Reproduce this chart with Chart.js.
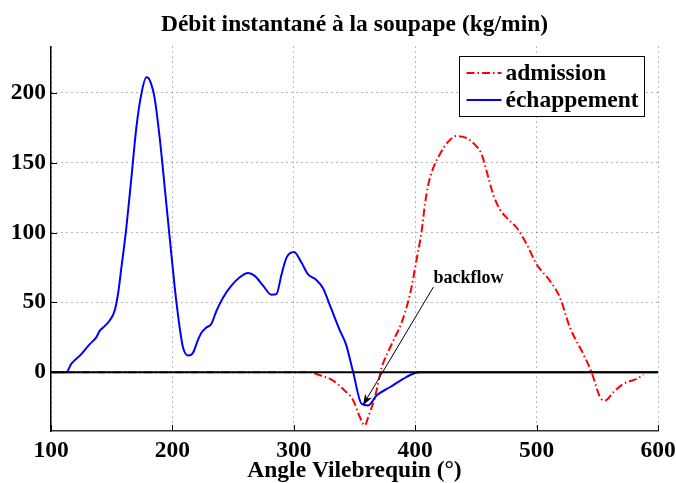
<!DOCTYPE html>
<html>
<head>
<meta charset="utf-8">
<script src="https://cdn.jsdelivr.net/npm/chart.js@4"></script>
<style>
  html, body { margin: 0; padding: 0; background: #fff; }
  #wrap { width: 676px; height: 483px; }
</style>
</head>
<body>
<div id="wrap"><canvas id="chart" width="676" height="483"></canvas></div>
<script>
// axes
const xTicks = [100, 200, 300, 400, 500, 600];
const yTicks = [0, 50, 100, 150, 200];

// échappement (exhaust) flow, kg/min vs crank angle
const echAngle = [100, 112.6, 116.7, 125, 131.8, 137.3, 140, 144.2, 148.3, 152.4, 155.2, 158, 162, 166.2, 170.3, 174.4, 178.6, 181.3, 185.4, 189.5, 193.7, 197.8, 201.9, 206, 208.7, 213, 217, 221, 224, 228, 232, 236.3, 241.8, 248.6, 255.5, 262.3, 267.8, 274.7, 281.6, 285.7, 289.9, 294, 300.2, 306.3, 311.8, 318, 324.2, 329.7, 337.9, 343, 348.9, 355.8, 361.3, 368.2, 379.1, 390.1, 399.8, 405, 600];
const echFlow  = [0, 0, 6, 13, 20, 25, 29.5, 33, 37, 44, 56, 75, 103, 139, 175, 199, 211, 209, 196, 168, 132, 96, 61, 32, 18, 12, 14, 23, 28.5, 32, 34.5, 44, 53.5, 62, 68, 71, 69, 62, 55.5, 56, 70, 82, 86, 78.5, 70, 66.5, 60, 48, 30, 20, 0, -22.5, -23.7, -16.6, -10.7, -4.7, -0.5, 0, 0];

// admission (intake) flow
const admAngle = [100, 315, 318.7, 332.4, 340.6, 348.9, 354.4, 358.5, 361.3, 366.8, 372.3, 380, 389, 394, 397, 401, 405.3, 408, 410.7, 414.8, 420.3, 427.2, 434, 442.4, 449, 454.7, 458.8, 464.3, 469.8, 476.7, 483.6, 491.8, 500, 511, 519.2, 527.5, 538.5, 545.3, 552.3, 556.4, 563.2, 571.5, 582.5, 588];
const admFlow  = [0, 0, -1.2, -6, -12, -20, -32, -38, -32, -18, 3, 19, 36, 50, 61, 80, 101, 120, 134, 146, 156, 165, 169, 167.6, 163, 156, 144, 127, 116.5, 109.4, 103.4, 91.6, 77.3, 65.4, 53.5, 32, 13, 0, -17.8, -20.2, -14.3, -8.3, -4.7, -1.6];

// zero reference line
const zeroAngle = [100, 600];
const zeroFlow  = [0, 0];

// annotation
const annotText = 'backflow';
const annotTail = [415, 61];
const annotHead = [357, -23.5];

const serif = '"Liberation Serif", "Times New Roman", serif';
const fontSize = 23.5;

const toXY = (xs, ys) => xs.map((x, i) => ({ x, y: ys[i] }));

const decor = {
  id: 'decor',
  afterDraw(chart) {
    const { ctx, chartArea: a, scales: { x, y } } = chart;
    ctx.save();

    // inward tick marks
    ctx.strokeStyle = '#000';
    ctx.lineWidth = 1;
    ctx.beginPath();
    xTicks.forEach(v => {
      const px = Math.round(x.getPixelForValue(v)) + 0.5;
      ctx.moveTo(px, a.bottom);
      ctx.lineTo(px, a.bottom - 6);
    });
    yTicks.forEach(v => {
      const py = Math.round(y.getPixelForValue(v)) + 0.5;
      ctx.moveTo(a.left, py);
      ctx.lineTo(a.left + 6, py);
    });
    ctx.stroke();

    // annotation arrow
    const tx = x.getPixelForValue(annotTail[0]), ty = y.getPixelForValue(annotTail[1]);
    const hx = x.getPixelForValue(annotHead[0]), hy = y.getPixelForValue(annotHead[1]);
    ctx.beginPath();
    ctx.moveTo(tx, ty);
    ctx.lineTo(hx, hy);
    ctx.stroke();
    const ang = Math.atan2(hy - ty, hx - tx);
    const len = 11, half = 4;
    ctx.fillStyle = '#000';
    ctx.beginPath();
    ctx.moveTo(hx, hy);
    ctx.lineTo(hx - len * Math.cos(ang) + half * Math.sin(ang), hy - len * Math.sin(ang) - half * Math.cos(ang));
    ctx.lineTo(hx - len * 0.7 * Math.cos(ang), hy - len * 0.7 * Math.sin(ang));
    ctx.lineTo(hx - len * Math.cos(ang) - half * Math.sin(ang), hy - len * Math.sin(ang) + half * Math.cos(ang));
    ctx.closePath();
    ctx.fill();

    ctx.font = 'bold 18px ' + serif;
    ctx.textAlign = 'left';
    ctx.textBaseline = 'alphabetic';
    ctx.fillText(annotText, tx, ty - 4);

    // legend box
    const items = chart.data.datasets.filter(d => d.label);
    ctx.font = 'bold ' + fontSize + 'px ' + serif;
    const textW = Math.max(...items.map(d => ctx.measureText(d.label).width));
    const sample = 35, pad = 7, rowH = 27;
    const boxW = Math.round(pad + sample + 4 + textW + 6);
    const boxH = rowH * items.length + 6;
    const bx = Math.round(a.right - 14 - boxW) + 0.5, by = Math.round(a.top + 9) + 0.5;
    ctx.fillStyle = '#fff';
    ctx.fillRect(bx, by, boxW, boxH);
    ctx.strokeStyle = '#000';
    ctx.lineWidth = 1;
    ctx.strokeRect(bx, by, boxW, boxH);
    items.forEach((d, i) => {
      const cy = by + 3 + rowH * i + rowH / 2;
      ctx.save();
      ctx.strokeStyle = d.borderColor;
      ctx.lineWidth = d.borderWidth;
      ctx.setLineDash(d.borderDash || []);
      ctx.beginPath();
      ctx.moveTo(bx + pad, cy);
      ctx.lineTo(bx + pad + sample, cy);
      ctx.stroke();
      ctx.restore();
      ctx.fillStyle = '#000';
      ctx.textBaseline = 'middle';
      ctx.fillText(d.label, bx + pad + sample + 4, cy + 1);
    });

    ctx.restore();
  }
};

new Chart(document.getElementById('chart'), {
  type: 'line',
  data: {
    datasets: [
      {
        data: toXY(zeroAngle, zeroFlow),
        borderColor: '#000',
        borderWidth: 2,
        pointRadius: 0,
        order: 0
      },
      {
        label: 'admission',
        data: toXY(admAngle, admFlow),
        borderColor: '#ff0000',
        borderWidth: 2,
        borderDash: [8, 3, 1.5, 3],
        pointRadius: 0,
        cubicInterpolationMode: 'monotone',
        order: 2
      },
      {
        label: 'échappement',
        data: toXY(echAngle, echFlow),
        borderColor: '#0000ff',
        borderWidth: 2,
        pointRadius: 0,
        cubicInterpolationMode: 'monotone',
        order: 1
      }
    ]
  },
  options: {
    responsive: false,
    devicePixelRatio: 1,
    animation: false,
    layout: { padding: { left: 0, right: 18, top: 0, bottom: 0 } },
    scales: {
      x: {
        type: 'linear',
        min: 100,
        max: 600,
        afterBuildTicks: s => { s.ticks = xTicks.map(v => ({ value: v })); },
        afterFit: s => { s.height = 52; s.paddingLeft = 0; s.paddingRight = 0; },
        grid: { color: 'rgba(0,0,0,0.55)', lineWidth: 1, drawTicks: false },
        border: { display: true, color: '#333', width: 1.5, dash: [1, 4] },
        ticks: {
          autoSkip: false,
          maxRotation: 0,
          padding: 6,
          color: '#000',
          font: { family: serif, size: fontSize, weight: 'bold', lineHeight: 1.2 }
        },
        title: {
          display: true,
          text: 'Angle Vilebrequin (°)',
          color: '#000',
          padding: { top: 0, bottom: 0 },
          font: { family: serif, size: fontSize, weight: 'bold', lineHeight: 1.05 }
        }
      },
      y: {
        min: -42,
        max: 233,
        afterBuildTicks: s => { s.ticks = yTicks.map(v => ({ value: v })); },
        afterFit: s => { s.width = 51; s.paddingTop = 0; s.paddingBottom = 0; },
        grid: { color: 'rgba(0,0,0,0.55)', lineWidth: 1, drawTicks: false },
        border: { display: true, color: '#000', width: 1.5, dash: [1, 4] },
        ticks: {
          padding: 5,
          color: '#000',
          font: { family: serif, size: fontSize, weight: 'bold', lineHeight: 1.2 }
        }
      }
    },
    plugins: {
      legend: { display: false },
      tooltip: { enabled: false },
      title: {
        display: true,
        fullSize: false,
        text: 'Débit instantané à la soupape (kg/min)',
        color: '#000',
        padding: { top: 11, bottom: 7.4 },
        font: { family: serif, size: fontSize, weight: 'bold', lineHeight: 1.2 }
      }
    }
  },
  plugins: [decor]
});
</script>
</body>
</html>
